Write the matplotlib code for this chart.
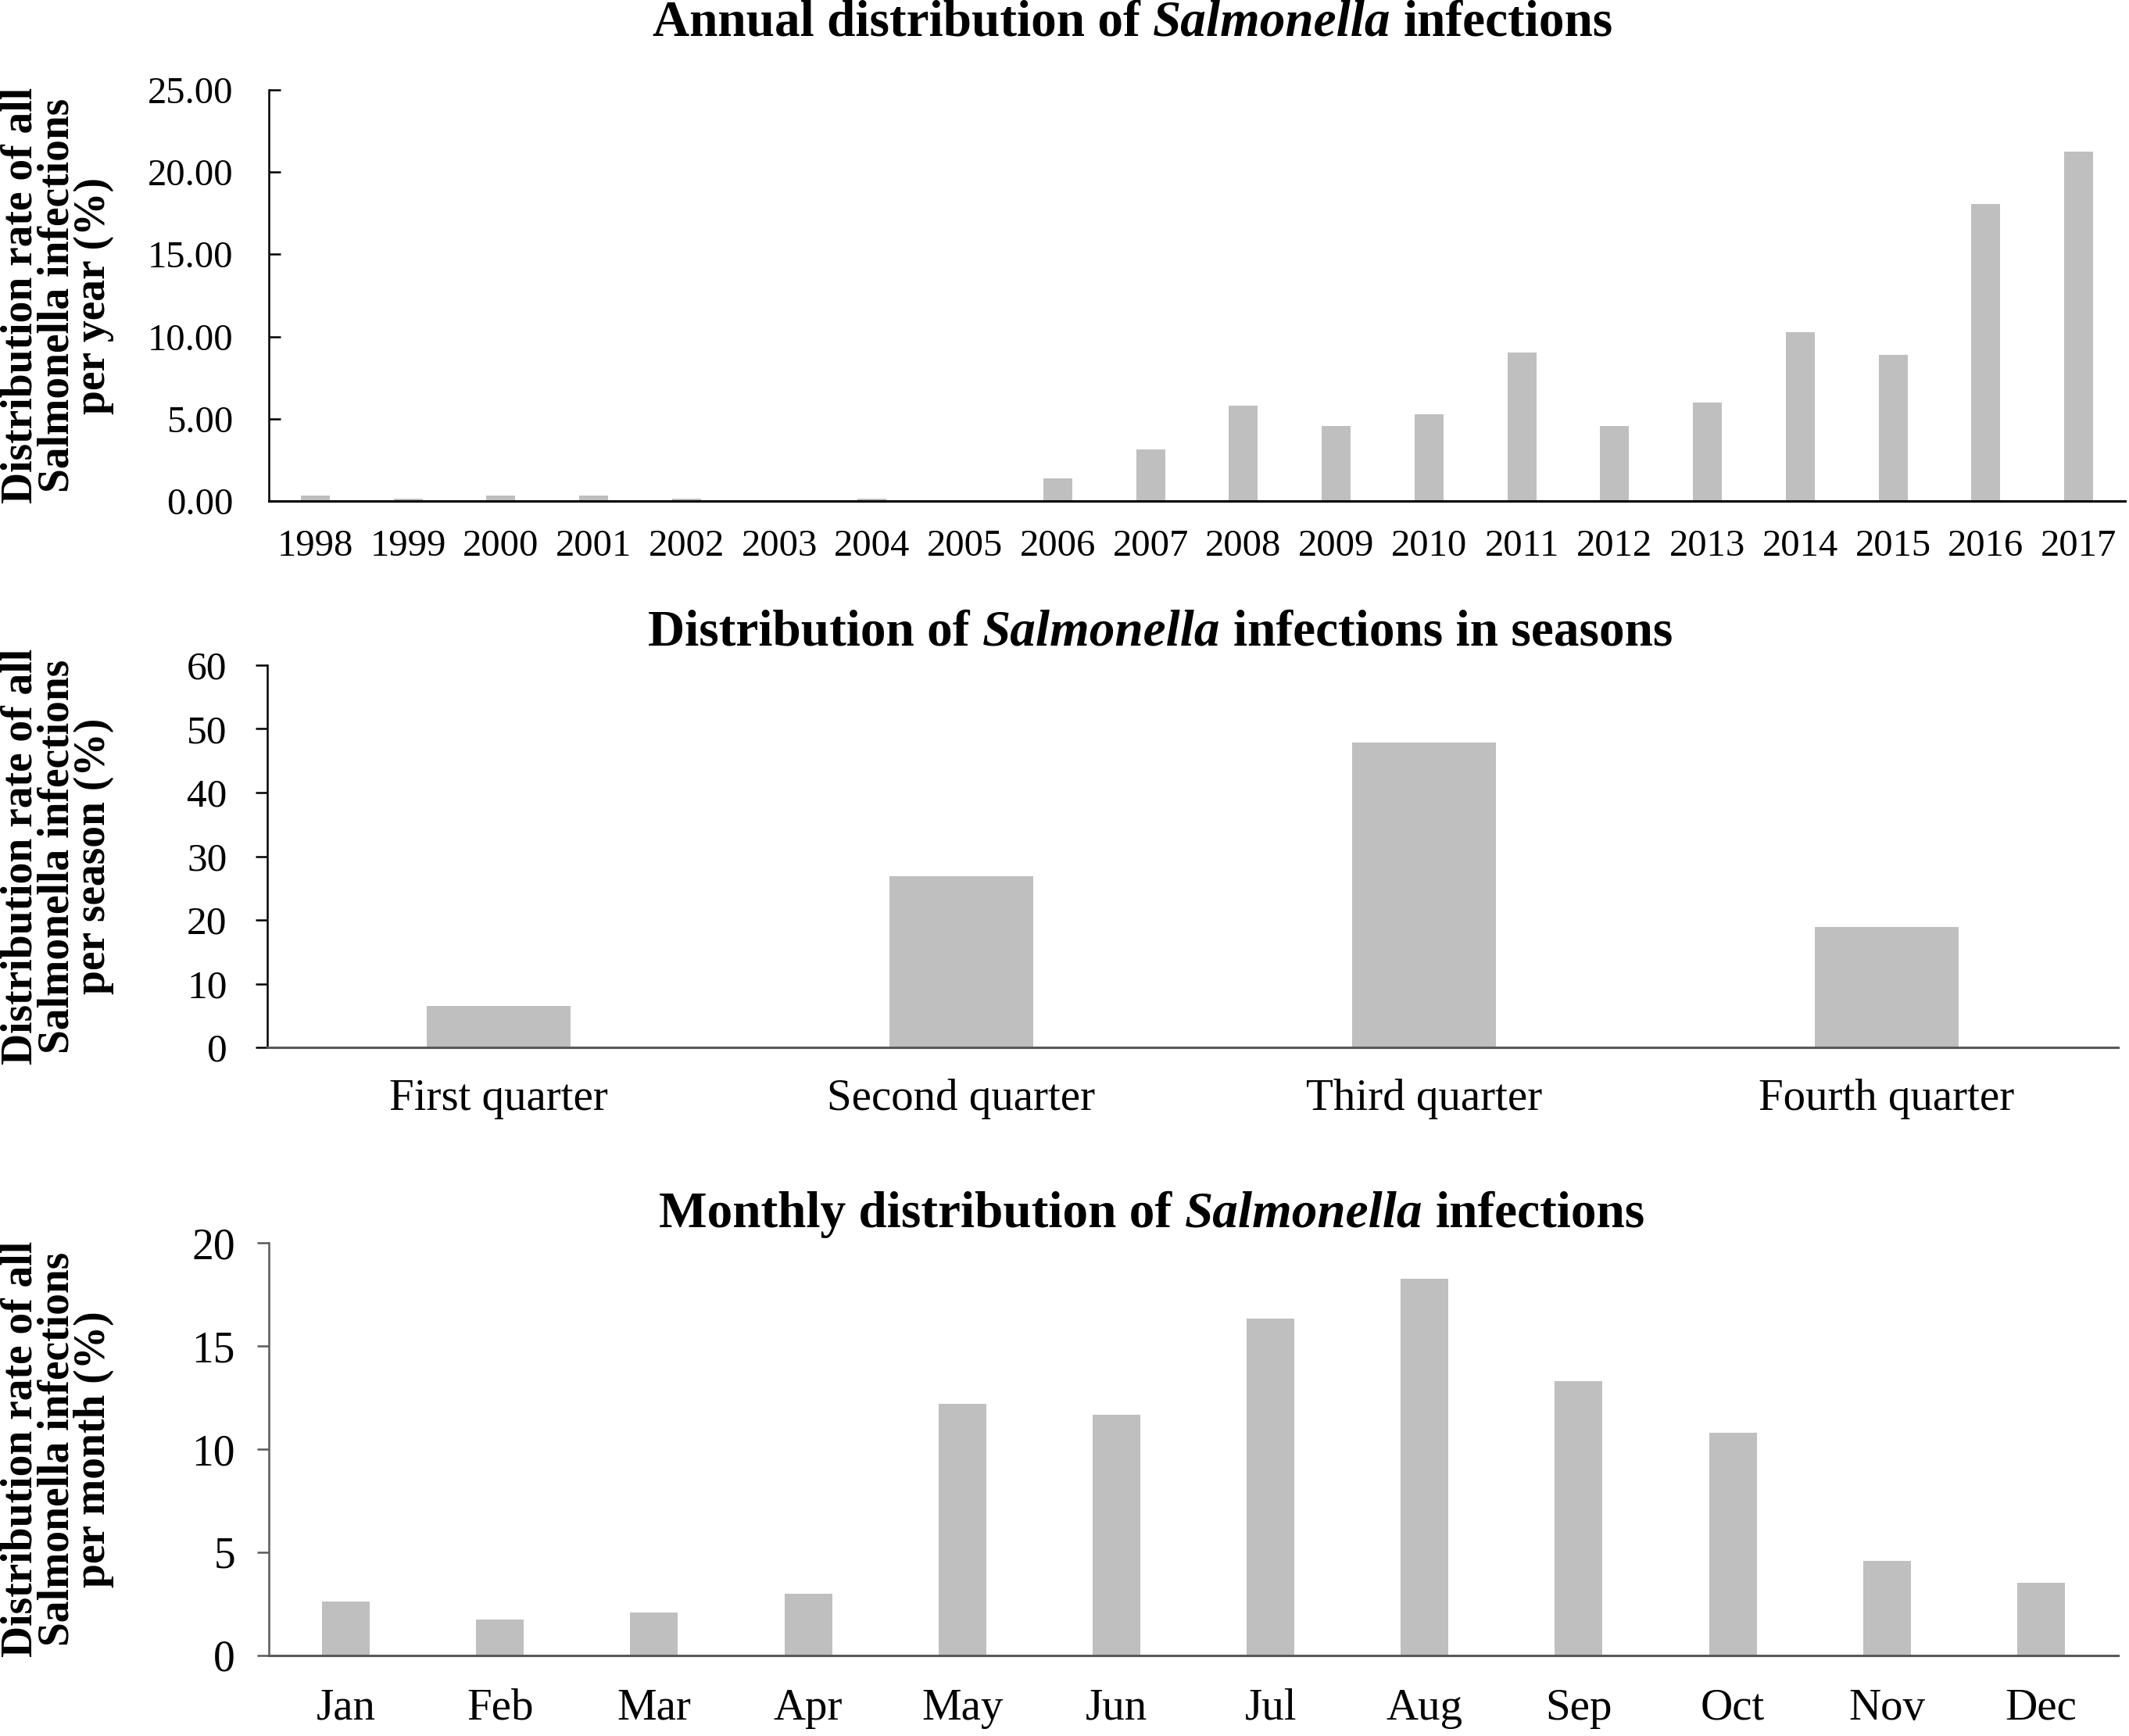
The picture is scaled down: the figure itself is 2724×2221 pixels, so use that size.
import numpy as np
import matplotlib
matplotlib.use("Agg")
from matplotlib import pyplot as plt
from matplotlib.transforms import blended_transform_factory

plt.rcParams['font.family'] = ['Liberation Serif', 'DejaVu Serif']

# datos
years = ['1998', '1999', '2000', '2001', '2002', '2003', '2004', '2005', '2006', '2007',
         '2008', '2009', '2010', '2011', '2012', '2013', '2014', '2015', '2016', '2017']
year_rate = [0.33, 0.15, 0.33, 0.33, 0.15, 0.0, 0.15, 0.0, 1.38, 3.14,
             5.81, 4.56, 5.27, 9.01, 4.56, 6.01, 10.25, 8.87, 18.06, 21.24]

quarters = ['First quarter', 'Second quarter', 'Third quarter', 'Fourth quarter']
quarter_rate = [6.5, 26.9, 47.8, 18.9]

months = ['Jan', 'Feb', 'Mar', 'Apr', 'May', 'Jun', 'Jul', 'Aug', 'Sep', 'Oct', 'Nov', 'Dec']
month_rate = [2.61, 1.74, 2.08, 2.99, 12.21, 11.67, 16.31, 18.25, 13.28, 10.81, 4.58, 3.52]

W, H = 2724, 2221
fig = plt.figure(figsize=(W / 100, H / 100), dpi=100)
renderer = fig.canvas.get_renderer()

BAR = '#bfbfbf'
GRIS = '#595959'
TITLE_FS = 47
LABEL_FS = 40


def titulo(xc, yc, partes):
    # titulo con partes en cursiva; se mide cada trozo y se centra el conjunto
    textos = []
    for txt, estilo in partes:
        t = fig.text(0, 0, txt, fontsize=TITLE_FS, fontweight='bold', style=estilo,
                     ha='left', va='center', transform=None)
        textos.append(t)
    espacio = TITLE_FS * 100 / 72 * 0.25
    anchos = [t.get_window_extent(renderer).width for t in textos]
    total = sum(anchos) + espacio * (len(textos) - 1)
    x = xc * W - total / 2
    for t, a in zip(textos, anchos):
        t.set_position((x, (1 - yc) * H))
        x += a + espacio


def eje(rect, cats, vals, ymax, paso, fmt, left_color, bottom_color, tickdir,
        yfs, xfs, ypad, xpad, ylabel):
    ax = fig.add_axes(rect)
    x = np.arange(len(cats))
    ax.bar(x, vals, width=0.31, color=BAR, zorder=2)
    ax.set_xlim(-0.5, len(cats) - 0.5)
    ax.set_ylim(0, ymax)
    yt = np.arange(0, ymax + paso / 2, paso)
    ax.set_yticks(yt)
    ax.set_yticklabels([fmt % v for v in yt])
    ax.set_xticks(x)
    ax.set_xticklabels(cats)
    for s in ['top', 'right']:
        ax.spines[s].set_visible(False)
    ax.spines['left'].set_color(left_color)
    ax.spines['bottom'].set_color(bottom_color)
    ax.spines['left'].set_linewidth(1.8)
    ax.spines['bottom'].set_linewidth(2.2)
    ax.tick_params(axis='y', direction=tickdir, length=11, width=1.8, color=left_color,
                   labelsize=yfs, pad=ypad)
    ax.tick_params(axis='x', length=0, labelsize=xfs, pad=xpad)
    ax.set_ylabel(ylabel, fontsize=LABEL_FS, fontweight='bold', linespacing=0.86)
    tr = blended_transform_factory(fig.transFigure, ax.transAxes)
    ax.yaxis.set_label_coords(146 / W, 0.5, transform=tr)
    return ax


def rect(l, r, t, b):
    return [l / W, 1 - b / H, (r - l) / W, (b - t) / H]


eje(rect(344, 2719, 115, 641), years, year_rate, 25, 5, '%.2f', 'black', 'black', 'in',
    35, 35, 33, 26,
    'Distribution rate of all\nSalmonella infections\nper year (%)')
titulo(0.532, 30 / H, [('Annual distribution of', 'normal'), ('Salmonella', 'italic'),
                       ('infections', 'normal')])

eje(rect(342, 2710, 851, 1340), quarters, quarter_rate, 60, 10, '%d', 'black', GRIS, 'out',
    37, 41, 26, 29,
    'Distribution rate of all\nSalmonella infections\nper season (%)')
titulo(0.545, 810 / H, [('Distribution of', 'normal'), ('Salmonella', 'italic'),
                        ('infections in seasons', 'normal')])

eje(rect(344, 2710, 1590, 2118), months, month_rate, 20, 5, '%d', GRIS, GRIS, 'out',
    40, 41, 20, 30,
    'Distribution rate of all\nSalmonella infections\nper month (%)')
titulo(0.541, 1554 / H, [('Monthly distribution of', 'normal'), ('Salmonella', 'italic'),
                         ('infections', 'normal')])

fig.savefig('out.png', dpi=100)
